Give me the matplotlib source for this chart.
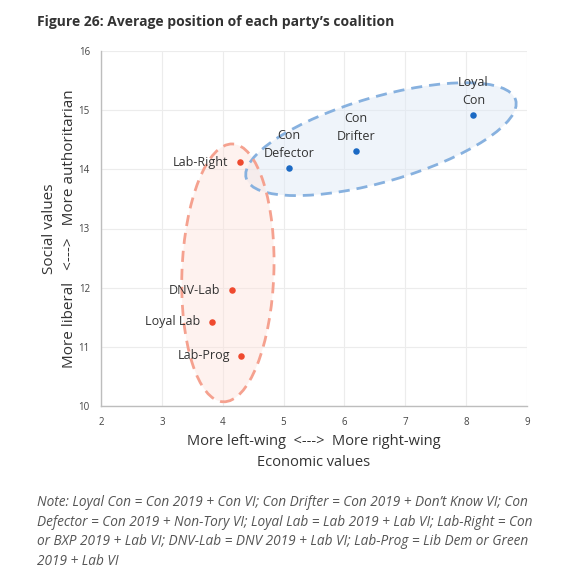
import matplotlib
matplotlib.use("Agg")
import matplotlib.pyplot as plt
from matplotlib.patches import Ellipse

plt.rcParams['font.family'] = ['Open Sans', 'DejaVu Sans']

# Data
con_labels = ["Loyal\nCon", "Con\nDrifter", "Con\nDefector"]
con_x = [8.12, 6.19, 5.09]
con_y = [14.92, 14.31, 14.02]

lab_labels = ["Lab-Right", "DNV-Lab", "Loyal Lab", "Lab-Prog"]
lab_x = [4.28, 4.15, 3.82, 4.30]
lab_y = [14.12, 11.96, 11.42, 10.85]

x_ticks = [2, 3, 4, 5, 6, 7, 8, 9]
y_ticks = [10, 11, 12, 13, 14, 15, 16]

# ellipse parameters (center x, center y, width, height, angle)
con_ellipse = (6.60, 14.51, 4.62, 1.43, 16.7)
lab_ellipse = (4.085, 12.25, 1.51, 4.36, -2.0)

title = "Figure 26: Average position of each party\u2019s coalition"
note = ("Note: Loyal Con = Con 2019 + Con VI; Con Drifter = Con 2019 + Don\u2019t Know VI; Con\n"
        "Defector = Con 2019 + Non-Tory VI; Loyal Lab = Lab 2019 + Lab VI; Lab-Right = Con\n"
        "or BXP 2019 + Lab VI; DNV-Lab = DNV 2019 + Lab VI; Lab-Prog = Lib Dem or Green\n"
        "2019 + Lab VI")

BLUE = "#1c6ac4"
RED = "#ef4a2f"

fig = plt.figure(figsize=(5.88, 5.74), dpi=100)
ax = fig.add_axes([101/588, 1-406/574, (527-101)/588, (406-51)/574])

ax.set_xlim(2, 9)
ax.set_ylim(10, 16)
ax.set_xticks(x_ticks)
ax.set_yticks(y_ticks)
ax.grid(True, color="#ececec", linewidth=0.8)
ax.set_axisbelow(True)
for s in ["top", "right"]:
    ax.spines[s].set_visible(False)
for s in ["left", "bottom"]:
    ax.spines[s].set_color("#bdbdbd")
    ax.spines[s].set_linewidth(1.0)
ax.tick_params(length=0, labelsize=7, colors="#444444", pad=8)

# Ellipses
cx, cy, w, h, a = con_ellipse
ax.add_patch(Ellipse((cx, cy), w, h, angle=a, facecolor="#dde8f6", alpha=0.45,
                     edgecolor="none", zorder=1))
ax.add_patch(Ellipse((cx, cy), w, h, angle=a, facecolor="none",
                     edgecolor="#87b1df", linewidth=2.0, linestyle=(0, (4, 2.5)), zorder=2))
cx, cy, w, h, a = lab_ellipse
ax.add_patch(Ellipse((cx, cy), w, h, angle=a, facecolor="#fde3dc", alpha=0.45,
                     edgecolor="none", zorder=1))
ax.add_patch(Ellipse((cx, cy), w, h, angle=a, facecolor="none",
                     edgecolor="#f5a18f", linewidth=2.0, linestyle=(0, (4, 2.5)), zorder=2))

ax.scatter(con_x, con_y, s=22, color=BLUE, zorder=3, linewidths=0)
ax.scatter(lab_x, lab_y, s=22, color=RED, zorder=3, linewidths=0)

for lbl, x, y in zip(con_labels, con_x, con_y):
    ax.annotate(lbl, (x, y), xytext=(0, 6), textcoords="offset points",
                ha="center", va="bottom", fontsize=9, color="#333333",
                linespacing=1.45, zorder=4)
for lbl, x, y in zip(lab_labels, lab_x, lab_y):
    ax.annotate(lbl, (x, y), xytext=(-8, 0), textcoords="offset points",
                ha="right", va="center", fontsize=9, color="#333333", zorder=4)

ax.set_xlabel("More left-wing  <--->  More right-wing\nEconomic values",
              fontsize=10.5, color="#333333", labelpad=4, linespacing=1.6)
ax.set_ylabel("Social values\nMore liberal   <--->   More authoritarian",
              fontsize=11, color="#333333", labelpad=1, linespacing=1.5)

fig.text(37/588, 1-22/574, title, fontsize=10, fontweight="bold",
         color="#333333", ha="left", va="center")
fig.text(37/588, 1-495/574, note, fontsize=9.8, style="italic", color="#555555",
         ha="left", va="top", linespacing=1.42)

fig.savefig("out.png", dpi=100)
